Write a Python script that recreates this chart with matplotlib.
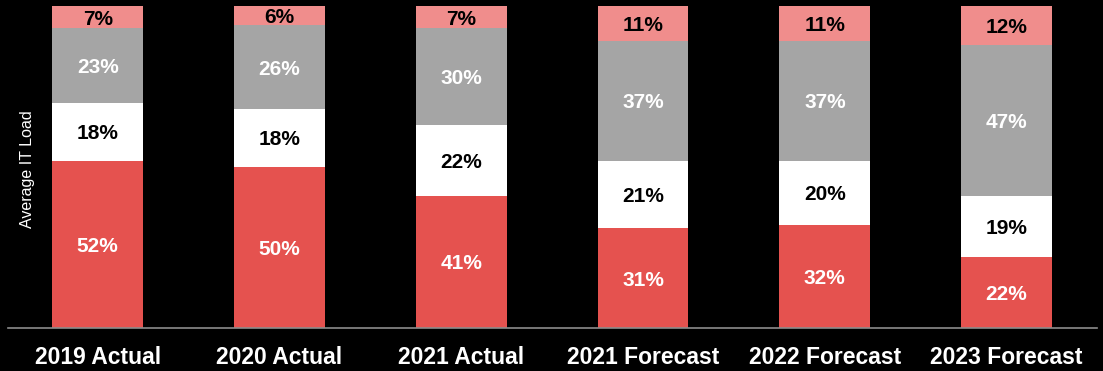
import numpy as np
import matplotlib.pyplot as plt

plt.rcParams['font.family'] = ['Liberation Sans', 'DejaVu Sans']

categories = ['2019 Actual', '2020 Actual', '2021 Actual',
              '2021 Forecast', '2022 Forecast', '2023 Forecast']
red_vals = [52, 50, 41, 31, 32, 22]
white_vals = [18, 18, 22, 21, 20, 19]
gray_vals = [23, 26, 30, 37, 37, 47]
pink_vals = [7, 6, 7, 11, 11, 12]

series = [red_vals, white_vals, gray_vals, pink_vals]
colors = ['#E5524F', '#FFFFFF', '#A5A5A5', '#F08D8C']
text_colors = ['white', 'black', 'white', 'black']

fig = plt.figure(figsize=(11.03, 3.71), dpi=100, facecolor='black')
ax = fig.add_axes([0.007, 0.116, 0.988, 0.868])
ax.set_facecolor('black')

x = np.arange(len(categories))
bottom = np.zeros(len(categories))
for vals, col, tcol in zip(series, colors, text_colors):
    vals = np.array(vals)
    ax.bar(x, vals, width=0.5, bottom=bottom, color=col, edgecolor='none')
    for xi, b, v in zip(x, bottom, vals):
        ax.text(xi, b + v / 2, f'{v}%', ha='center', va='center_baseline',
                color=tcol, fontsize=15, fontweight='bold')
    bottom += vals

ax.set_xlim(-0.495, 5.5)
ax.set_ylim(0, 100)
ax.set_xticks(x)
ax.set_xticklabels(categories, color='white', fontsize=16.5, fontweight='bold')
ax.tick_params(axis='x', length=0, pad=13)
ax.set_yticks([])
for s in ['top', 'right', 'left']:
    ax.spines[s].set_visible(False)
ax.spines['bottom'].set_color('#8C8C8C')
ax.spines['bottom'].set_linewidth(1.2)

fig.text(0.025, 0.545, 'Average IT Load', rotation=90, color='white',
         fontsize=11.5, ha='center', va='center')

fig.savefig('out.png', dpi=100, facecolor='black')
